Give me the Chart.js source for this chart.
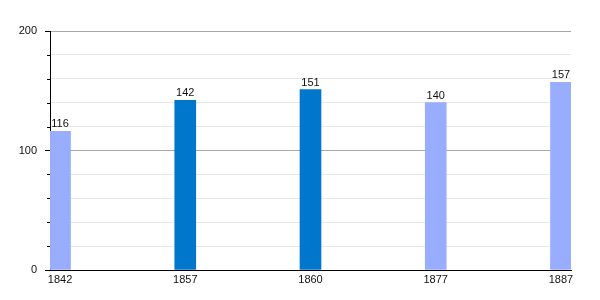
<!DOCTYPE html>
<html>
<head>
<meta charset="utf-8">
<script src="https://cdn.jsdelivr.net/npm/chart.js@4/dist/chart.umd.min.js"></script>
<style>
  html, body { margin: 0; padding: 0; background: #fff; }
  #wrap { width: 600px; height: 300px; }
</style>
</head>
<body>
<div id="wrap"><canvas id="c" width="600" height="300"></canvas></div>
<script>
const years = ['1842', '1857', '1860', '1877', '1887'];
const population = [116, 142, 151, 140, 157];
const barColors = ['#99adff', '#0077cc', '#0077cc', '#99adff', '#99adff'];
const yMin = 0, yMax = 200, yStep = 20, yMajor = 100;

const valueLabels = {
  id: 'valueLabels',
  afterDatasetsDraw(chart) {
    const ctx = chart.ctx;
    const meta = chart.getDatasetMeta(0);
    ctx.save();
    ctx.font = '11px "Liberation Sans", Arial, sans-serif';
    ctx.fillStyle = '#111';
    ctx.textAlign = 'center';
    ctx.textBaseline = 'alphabetic';
    meta.data.forEach((bar, i) => {
      ctx.fillText(String(population[i]), bar.x, bar.y - 4);
    });
    ctx.restore();
  }
};

const minorTicks = {
  id: 'minorTicks',
  afterDraw(chart) {
    const y = chart.scales.y;
    const ctx = chart.ctx;
    ctx.save();
    ctx.strokeStyle = '#000';
    ctx.lineWidth = 1;
    y.ticks.forEach(t => {
      if (t.value % yMajor !== 0) {
        const py = Math.round(y.getPixelForValue(t.value)) + 0.5;
        ctx.beginPath();
        ctx.moveTo(y.right - 3, py);
        ctx.lineTo(y.right, py);
        ctx.stroke();
      }
    });
    ctx.restore();
  }
};

new Chart(document.getElementById('c'), {
  type: 'bar',
  data: {
    datasets: [{
      data: population.map((v, i) => ({ x: i, y: v })),
      backgroundColor: barColors,
      borderWidth: 0,
      barThickness: 21
    }]
  },
  options: {
    responsive: false,
    animation: false,
    devicePixelRatio: 1,
    layout: { padding: { top: 31, right: 29, left: 0, bottom: 0 } },
    plugins: { legend: { display: false }, tooltip: { enabled: false } },
    scales: {
      x: {
        type: 'linear',
        offset: false,
        min: -0.08,
        max: years.length - 1 + 0.08,
        afterBuildTicks(scale) {
          scale.ticks = years.map((_, i) => ({ value: i }));
        },
        afterFit(scale) { scale.height = 30; },
        grid: { display: false, drawTicks: false, offset: false },
        border: { display: true, color: '#000', width: 1 },
        ticks: {
          autoSkip: false,
          maxRotation: 0,
          padding: 3,
          color: '#111',
          font: { family: '"Liberation Sans", Arial, sans-serif', size: 11 },
          callback: (v) => years[v] ?? ''
        }
      },
      y: {
        min: yMin,
        max: yMax,
        afterFit(scale) { scale.width = 50; },
        grid: {
          color: (c) => (c.tick && c.tick.value % yMajor === 0) ? '#a8a8a8' : '#e8e8e8',
          tickColor: (c) => (c.tick && c.tick.value % yMajor === 0) ? '#000' : 'rgba(0,0,0,0)',
          tickLength: 5,
          drawTicks: true
        },
        border: { display: true, color: '#000', width: 1 },
        ticks: {
          stepSize: yStep,
          autoSkip: false,
          padding: 8,
          color: '#111',
          font: { family: '"Liberation Sans", Arial, sans-serif', size: 11 },
          callback: (v) => (v % yMajor === 0) ? String(v) : ''
        }
      }
    }
  },
  plugins: [valueLabels, minorTicks]
});
</script>
</body>
</html>
